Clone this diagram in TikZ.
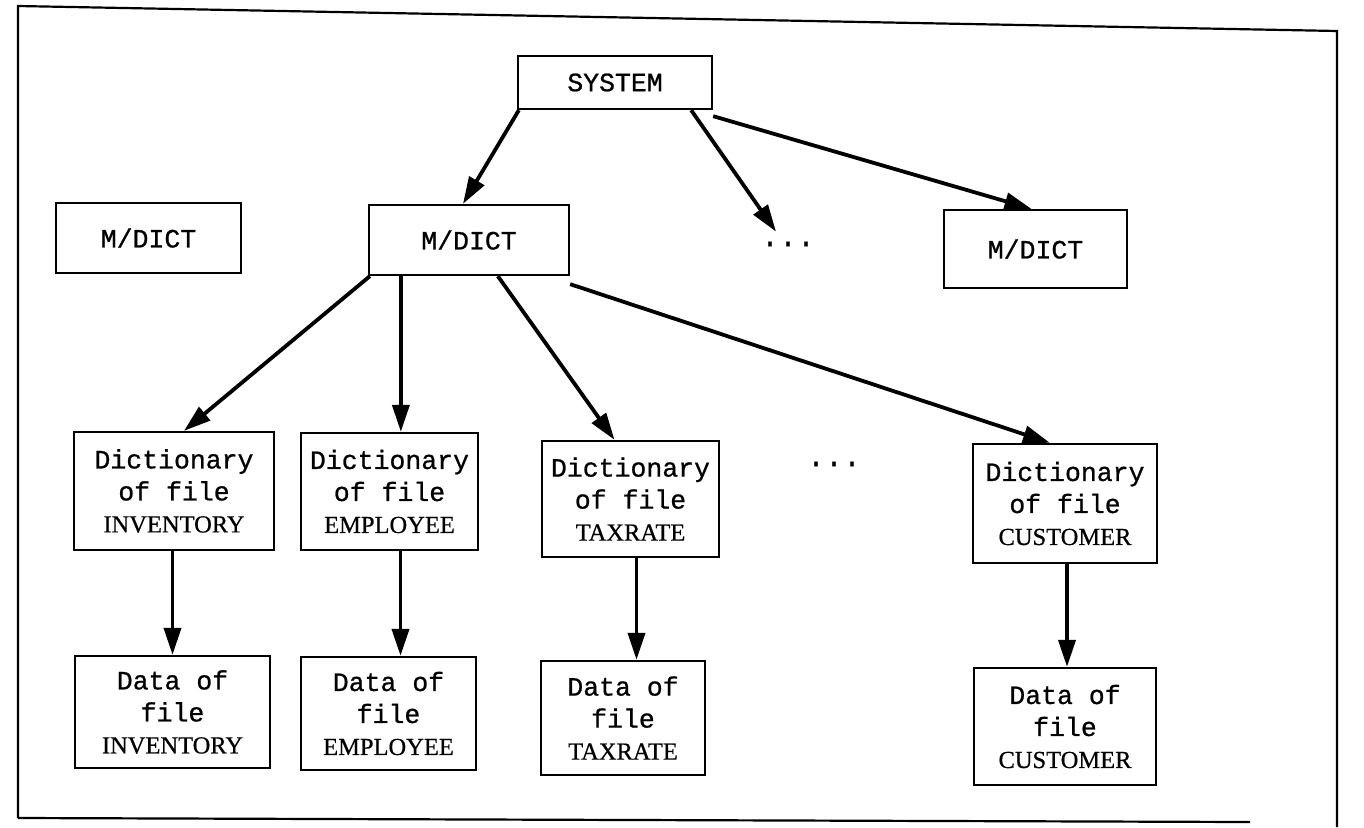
\documentclass[tikz,border=0pt]{standalone}
\usepackage{fontspec}
\setmainfont{Liberation Serif}[FakeBold=0.6]
\setmonofont{Liberation Mono}[FakeBold=0.8]
\usetikzlibrary{arrows.meta,calc}
\newcommand\fname[1]{{\rmfamily\fontsize{24.5}{32}\selectfont #1}}
\begin{document}
\begin{tikzpicture}[x=1pt,y=-1pt,
  box/.style={draw,line width=2.3pt,inner sep=0pt,align=center,
    font=\ttfamily\fontsize{26.5}{32}\selectfont},
  dots/.style={inner sep=0pt,font=\ttfamily\fontsize{30}{32}\selectfont},
  arr/.style={line width=3.8pt,-{Triangle[length=27pt,width=17pt]}},
  frame/.style={line width=2.2pt}]
\useasboundingbox (0,0) rectangle (1364,827);

% outer frame
\draw[frame] (18,818) -- (18,6) -- (1337,31) -- (1337,827);
\draw[frame] (18,818) -- (1250,822);

% top levels
\node[box,minimum width=194pt,minimum height=53pt] (sys) at (615,82.5) {SYSTEM};
\node[box,minimum width=185pt,minimum height=70pt] (mdL) at (148.5,238) {M/DICT};
\node[box,minimum width=200pt,minimum height=70pt] (mdC) at (469,240) {M/DICT};
\node[box,minimum width=183pt,minimum height=78pt] (mdR) at (1035.5,249) {M/DICT};
\node[dots] (dots1) at (788,244) {...};

% file dictionaries
\node[box,minimum width=200pt,minimum height=118pt] (dict1) at (174,491) {Dictionary\\of file\\\fname{INVENTORY}};
\node[box,minimum width=177pt,minimum height=117pt] (dict2) at (389.5,491.5) {Dictionary\\of file\\\fname{EMPLOYEE}};
\node[box,minimum width=177pt,minimum height=116pt] (dict3) at (630.5,499) {Dictionary\\of file\\\fname{TAXRATE}};
\node[dots] (dots2) at (834,464) {...};
\node[box,minimum width=184pt,minimum height=119pt] (dict4) at (1065,503.5) {Dictionary\\of file\\\fname{CUSTOMER}};

% file data
\node[box,minimum width=195pt,minimum height=112pt] (data1) at (172.5,712) {Data of\\file\\\fname{INVENTORY}};
\node[box,minimum width=175pt,minimum height=113pt] (data2) at (388.5,713.5) {Data of\\file\\\fname{EMPLOYEE}};
\node[box,minimum width=164pt,minimum height=114pt] (data3) at (623,718) {Data of\\file\\\fname{TAXRATE}};
\node[box,minimum width=182pt,minimum height=117pt] (data4) at (1065,726.5) {Data of\\file\\\fname{CUSTOMER}};

% connectors from SYSTEM
\draw[arr] ($(sys.south west)+(2,0)$) -- ($(mdC.north)+(-6,0)$);
\draw[arr] ($(sys.south east)+(-22,0)$) -- ($(dots1.north)+(-12,-10)$);
\draw[arr] ($(sys.south east)+(0,6)$) -- ($(mdR.north)+(-4,0)$);

% connectors from the central M/DICT
\draw[arr] ($(mdC.south west)+(2,0)$) -- ($(dict1.north)+(10,0)$);
\coordinate (c2) at ($(mdC.south west)+(33,0)$);
\draw[arr] (c2) -- (c2 |- dict2.north);
\draw[arr] ($(mdC.south west)+(130,0)$) -- ($(dict3.north)+(-16,0)$);
\draw[arr] ($(mdC.south east)+(0,8)$) -- ($(dict4.north)+(-15,0)$);

% dictionary to data
\coordinate (v1) at (data1.north |- dict1.south);
\coordinate (v2) at ($(dict2.south)+(11,0)$);
\coordinate (v3) at ($(dict3.south)+(6,0)$);
\coordinate (v4) at ($(dict4.south)+(2,0)$);
\draw[arr] (v1) -- (data1.north);
\draw[arr] (v2) -- (v2 |- data2.north);
\draw[arr] (v3) -- (v3 |- data3.north);
\draw[arr] (v4) -- (v4 |- data4.north);
\end{tikzpicture}
\end{document}
